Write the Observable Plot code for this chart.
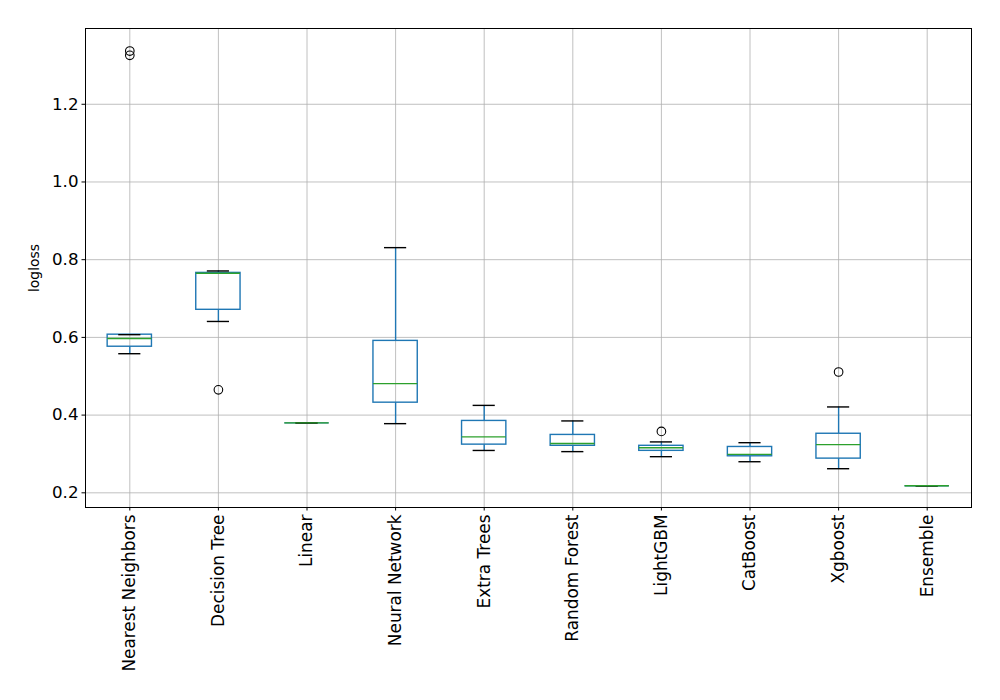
<!DOCTYPE html>
<html>
<head>
<meta charset="utf-8">
<script src="https://cdn.jsdelivr.net/npm/d3@7"></script>
<script src="https://cdn.jsdelivr.net/npm/@observablehq/plot@0.6"></script>
<style>
  html, body { margin: 0; padding: 0; background: #fff; }
  #chart svg { display: block; }
</style>
</head>
<body>
<div id="chart"></div>
<script>
const models = ["Nearest Neighbors","Decision Tree","Linear","Neural Network","Extra Trees","Random Forest","LightGBM","CatBoost","Xgboost","Ensemble"];
const whiskerLow  = [0.558, 0.641, 0.380, 0.378, 0.309, 0.306, 0.293, 0.280, 0.262, 0.218];
const q1          = [0.576, 0.671, 0.380, 0.432, 0.324, 0.321, 0.308, 0.294, 0.288, 0.218];
const median      = [0.597, 0.765, 0.380, 0.481, 0.344, 0.327, 0.316, 0.299, 0.324, 0.218];
const q3          = [0.607, 0.766, 0.380, 0.591, 0.385, 0.349, 0.321, 0.318, 0.352, 0.218];
const whiskerHigh = [0.607, 0.771, 0.380, 0.831, 0.425, 0.385, 0.331, 0.329, 0.421, 0.218];
const outlierModel = ["Nearest Neighbors","Nearest Neighbors","Decision Tree","LightGBM","Xgboost"];
const outlierValue = [1.337, 1.326, 0.465, 0.358, 0.511];
const yTicks = [0.2, 0.4, 0.6, 0.8, 1.0, 1.2];

const stats = models.map((m, i) => ({
  model: m, pos: i + 1,
  lo: whiskerLow[i], q1: q1[i], med: median[i], q3: q3[i], hi: whiskerHigh[i]
}));
const outliers = outlierModel.map((m, i) => ({pos: models.indexOf(m) + 1, value: outlierValue[i]}));

const blue = "#1f77b4", green = "#2ca02c", sw = 1.4;
const boxHalf = 0.25, capHalf = 0.125;

const chart = Plot.plot({
  width: 1000,
  height: 700,
  marginLeft: 85,
  marginRight: 29,
  marginTop: 28,
  marginBottom: 193,
  style: {fontFamily: "DejaVu Sans", background: "#fff", color: "black"},
  x: {type: "linear", domain: [0.5, 10.5]},
  y: {domain: [0.1622, 1.395]},
  marks: [
    Plot.gridX(d3.range(1, 11), {stroke: "#b0b0b0", strokeOpacity: 1, strokeWidth: 0.8}),
    Plot.gridY(yTicks, {stroke: "#b0b0b0", strokeOpacity: 1, strokeWidth: 0.8}),
    // whiskers
    Plot.ruleX(stats, {x: "pos", y1: "lo", y2: "q1", stroke: blue, strokeWidth: sw}),
    Plot.ruleX(stats, {x: "pos", y1: "q3", y2: "hi", stroke: blue, strokeWidth: sw}),
    // boxes
    Plot.rect(stats, {x1: d => d.pos - boxHalf, x2: d => d.pos + boxHalf, y1: "q1", y2: "q3", fill: "none", stroke: blue, strokeWidth: sw}),
    Plot.ruleY(stats.filter(d => d.q1 === d.q3), {x1: d => d.pos - boxHalf, x2: d => d.pos + boxHalf, y: "q1", stroke: blue, strokeWidth: sw}),
    // caps
    Plot.ruleY(stats, {x1: d => d.pos - capHalf, x2: d => d.pos + capHalf, y: "lo", stroke: "black", strokeWidth: sw}),
    Plot.ruleY(stats, {x1: d => d.pos - capHalf, x2: d => d.pos + capHalf, y: "hi", stroke: "black", strokeWidth: sw}),
    // medians
    Plot.ruleY(stats, {x1: d => d.pos - boxHalf, x2: d => d.pos + boxHalf, y: "med", stroke: green, strokeWidth: sw}),
    // outliers
    Plot.dot(outliers, {x: "pos", y: "value", r: 4.3, stroke: "black", fill: "none", strokeWidth: 1.1}),
    Plot.frame({stroke: "black", strokeWidth: 1}),
    Plot.axisX(d3.range(1, 11), {
      tickFormat: d => models[d - 1], tickRotate: -90, tickSize: 3.5, tickPadding: 3.5,
      fontSize: 16.9, label: null, stroke: "black"
    }),
    Plot.axisY(yTicks, {
      tickFormat: d3.format(".1f"), tickSize: 3.5, tickPadding: 3.5,
      fontSize: 16.67, label: null, stroke: "black"
    }),
    Plot.axisY({ticks: [], label: "logloss", labelAnchor: "center", labelArrow: "none", labelOffset: 56, fontSize: 13.9})
  ]
});
document.getElementById("chart").appendChild(chart);
</script>
</body>
</html>
